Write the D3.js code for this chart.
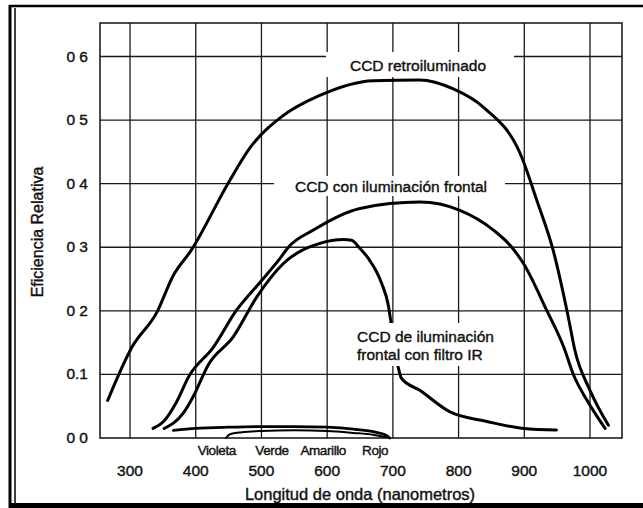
<!DOCTYPE html>
<html lang="es">

<head>
    <meta charset="UTF-8">
    <title>Eficiencia CCD</title>
    <style>
        body { margin: 0; background: #fff; }
        text { font-family: "Liberation Sans", Arial, sans-serif; fill: #111; stroke: #111; stroke-width: 0.4px; }
    </style>
</head>

<body>
    <script src="https://d3js.org/d3.v7.min.js"></script>
    <script>
        // longitudes de onda (nm) y eficiencias
        var retroNm = [266, 303, 341, 366, 393, 450, 483, 533, 587, 670, 741, 792, 838, 896, 919, 944, 967, 977, 1000, 1028];
        var retroEff = [0.059, 0.143, 0.198, 0.256, 0.295, 0.402, 0.457, 0.507, 0.538, 0.562, 0.563, 0.549, 0.520, 0.442, 0.374, 0.295, 0.190, 0.138, 0.075, 0.020];

        var frontNm = [335, 351, 371, 389, 427, 462, 498, 528, 541, 579, 650, 741, 802, 853, 881, 899, 934, 960, 975, 995, 1023];
        var frontEff = [0.015, 0.026, 0.057, 0.096, 0.143, 0.201, 0.245, 0.282, 0.300, 0.327, 0.361, 0.371, 0.358, 0.327, 0.300, 0.274, 0.201, 0.143, 0.099, 0.060, 0.015];

        var irNm = [352, 381, 396, 419, 457, 493, 533, 589, 625, 637, 650, 663, 683, 693, 697, 708, 713, 741, 787, 843, 899, 949];
        var irEff = [0.015, 0.039, 0.065, 0.115, 0.159, 0.222, 0.274, 0.306, 0.312, 0.311, 0.298, 0.282, 0.243, 0.209, 0.183, 0.112, 0.094, 0.075, 0.041, 0.026, 0.015, 0.0125];

        var lowANm = [366, 400, 450, 500, 550, 600, 640, 670, 690, 695];
        var lowAEff = [0.012, 0.015, 0.017, 0.018, 0.018, 0.017, 0.014, 0.010, 0.004, 0.0];
        var lowBNm = [446, 452, 470, 500, 550, 600, 640, 670, 690];
        var lowBEff = [0.0, 0.006, 0.009, 0.011, 0.012, 0.011, 0.008, 0.005, 0.001];

        var xTicks = [300, 400, 500, 600, 700, 800, 900, 1000];
        var yTicks = [0, 0.1, 0.2, 0.3, 0.4, 0.5, 0.6];
        var yTickLabels = ["0 0", "0.1", "0 2", "0 3", "0 4", "0 5", "0 6"];
        var colorNames = ["Violeta", "Verde", "Amarillo", "Rojo"];
        var colorNm = [432, 516, 594, 673];

        const width = 643;
        const height = 508;
        const plot = { left: 100, top: 23, right: 622, bottom: 438 };

        const svg = d3.select("body")
            .append("svg")
            .attr("width", width)
            .attr("height", height);

        var x = d3.scaleLinear().domain([254.3, 1048.7]).range([plot.left, plot.right]);
        var y = d3.scaleLinear().domain([0, 0.6]).range([plot.bottom, 56.5]);

        // marco exterior
        svg.append("line").attr("x1", 9).attr("x2", width).attr("y1", 6).attr("y2", 6)
            .attr("stroke", "#000").attr("stroke-width", 2.5);
        svg.append("line").attr("x1", 10).attr("x2", 10).attr("y1", 5).attr("y2", height)
            .attr("stroke", "#000").attr("stroke-width", 3);
        svg.append("line").attr("x1", 15).attr("x2", 15).attr("y1", 8).attr("y2", height)
            .attr("stroke", "#000").attr("stroke-width", 1.5);
        svg.append("line").attr("x1", 9).attr("x2", width).attr("y1", 505.5).attr("y2", 505.5)
            .attr("stroke", "#000").attr("stroke-width", 5);

        // rejilla
        var grid = svg.append("g").attr("stroke", "#1a1a1a").attr("stroke-width", 1.3);
        grid.selectAll(".vline")
            .data(xTicks)
            .enter()
            .append("line")
            .attr("x1", d => x(d)).attr("x2", d => x(d))
            .attr("y1", plot.top).attr("y2", plot.bottom);
        grid.selectAll(".hline")
            .data(yTicks.slice(1))
            .enter()
            .append("line")
            .attr("x1", plot.left).attr("x2", plot.right)
            .attr("y1", d => y(d)).attr("y2", d => y(d));
        svg.append("rect")
            .attr("x", plot.left).attr("y", plot.top)
            .attr("width", plot.right - plot.left).attr("height", plot.bottom - plot.top)
            .attr("fill", "none").attr("stroke", "#111").attr("stroke-width", 1.5);

        // curvas
        var line = d3.line()
            .x(d => x(d[0]))
            .y(d => y(d[1]))
            .curve(d3.curveMonotoneX);

        function curve(nm, eff, w) {
            svg.append("path")
                .datum(d3.zip(nm, eff))
                .attr("d", line)
                .attr("fill", "none")
                .attr("stroke", "#000")
                .attr("stroke-width", w)
                .attr("stroke-linecap", "round");
        }
        curve(retroNm, retroEff, 3);
        curve(frontNm, frontEff, 3);
        curve(irNm, irEff, 3);
        curve(lowANm, lowAEff, 2.8);
        curve(lowBNm, lowBEff, 2);

        // etiquetas de las curvas (con fondo blanco que tapa la rejilla)
        function label(lines, tx, ty, anchor, box) {
            svg.append("rect")
                .attr("x", box[0]).attr("y", box[1])
                .attr("width", box[2]).attr("height", box[3])
                .attr("fill", "#fff");
            var t = svg.append("text")
                .attr("x", tx).attr("y", ty)
                .attr("text-anchor", anchor)
                .style("font-size", "15.5px");
            lines.forEach(function(s, i) {
                t.append("tspan").attr("x", tx).attr("dy", i == 0 ? 0 : 18).text(s);
            });
        }
        label(["CCD retroiluminado"], 418, 71, "middle", [326, 52, 188, 25]);
        label(["CCD con iluminación frontal"], 391, 192, "middle", [274, 176, 231, 20]);
        label(["CCD de iluminación", "frontal con filtro IR"], 357, 342, "start", [353, 323, 162, 43]);

        // ejes
        svg.selectAll(".xlab")
            .data(xTicks)
            .enter()
            .append("text")
            .attr("x", d => x(d))
            .attr("y", 476)
            .attr("text-anchor", "middle")
            .style("font-size", "15.5px")
            .text(d => d);

        svg.selectAll(".ylab")
            .data(yTicks)
            .enter()
            .append("text")
            .attr("x", 88)
            .attr("y", d => y(d) + 5)
            .attr("text-anchor", "end")
            .style("font-size", "15.5px")
            .text((d, i) => yTickLabels[i]);

        svg.selectAll(".color")
            .data(colorNames)
            .enter()
            .append("text")
            .attr("x", (d, i) => x(colorNm[i]))
            .attr("y", 455)
            .attr("text-anchor", "middle")
            .style("font-size", "13.5px")
            .style("letter-spacing", "-0.4px")
            .text(d => d);

        svg.append("text")
            .attr("x", 360)
            .attr("y", 500)
            .attr("text-anchor", "middle")
            .style("font-size", "16.5px")
            .text("Longitud de onda (nanometros)");

        svg.append("text")
            .attr("transform", "translate(43,232) rotate(-90)")
            .attr("text-anchor", "middle")
            .style("font-size", "16px")
            .text("Eficiencia Relativa");
    </script>
</body>

</html>
